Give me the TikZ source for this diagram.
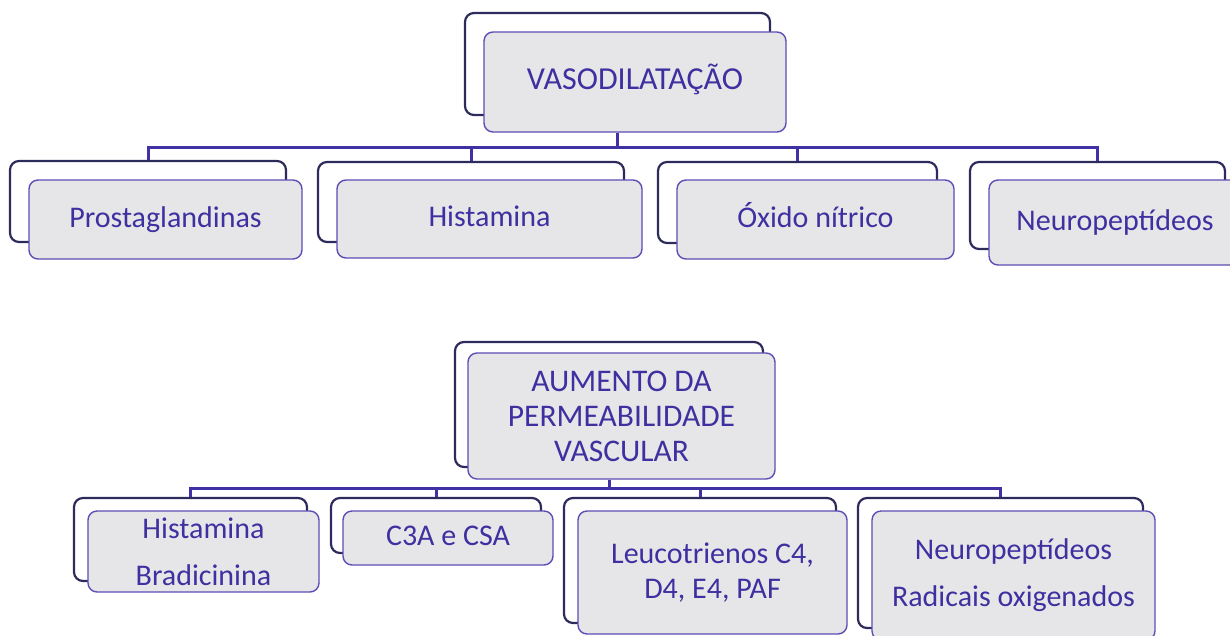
\documentclass[tikz,border=0pt]{standalone}
\usepackage{fontspec}
\setmainfont{Carlito}
\definecolor{txtc}{RGB}{62,48,160}
\definecolor{connc}{RGB}{64,50,165}
\definecolor{frontc}{RGB}{92,78,182}
\definecolor{backc}{RGB}{45,42,92}
\definecolor{fillc}{RGB}{230,230,232}
\tikzset{
  backbox/.style={draw=backc, line width=2.2pt, rounded corners=9pt, fill=white, inner sep=0pt},
  frontbox/.style={draw=frontc, line width=1.4pt, rounded corners=9pt, fill=fillc, inner sep=0pt,
    text=txtc, align=center, font=\fontsize{30}{35}\selectfont},
  oneline/.style={text height=22pt, text depth=7pt},
  headfont/.style={font=\fontsize{32}{35}\selectfont},
  conn/.style={draw=connc, line width=3pt},
}
\begin{document}
\begin{tikzpicture}[x=1pt,y=-1pt]
\useasboundingbox (0,0) rectangle (1230,635);
\clip (0,0) rectangle (1230,635);
% buses
\coordinate (bus1) at (617.5,147);
\coordinate (bus2) at (609,488);
% top group
\node[backbox, minimum width=305pt, minimum height=102pt] (vB) at (617.5,64) {};
\node[frontbox, headfont, oneline, minimum width=302pt, minimum height=100pt] (vF) at (635,82) {VASODILATAÇÃO};
% row 1 back boxes
\node[backbox, minimum width=276pt, minimum height=81pt] (p1B) at (148,201.5) {};
\node[backbox, minimum width=306pt, minimum height=80pt] (p2B) at (471,202) {};
\node[backbox, minimum width=279pt, minimum height=81pt] (p3B) at (797.5,202.5) {};
\node[backbox, minimum width=255pt, minimum height=87pt] (p4B) at (1097.5,205.5) {};
% connectors row 1
\draw[conn] (vB.center |- vF.south) -- (bus1);
\draw[conn] (p1B.north) |- (bus1);
\draw[conn] (bus1) -| (p4B.north);
\draw[conn] (bus1 -| p2B.north) -- (p2B.north);
\draw[conn] (bus1 -| p3B.north) -- (p3B.north);
% row 1 front boxes
\node[frontbox, oneline, minimum width=273pt, minimum height=79pt] (p1F) at (165.5,219.5) {Prostaglandinas};
\node[frontbox, oneline, minimum width=305pt, minimum height=78pt] (p2F) at (489.5,219) {Histamina};
\node[frontbox, oneline, minimum width=277pt, minimum height=79pt] (p3F) at (815.5,219.5) {Óxido nítrico};
\node[frontbox, oneline, minimum width=252pt, minimum height=85pt] (p4F) at (1115,222.5) {Neuropeptídeos};
% bottom group
\node[backbox, minimum width=308pt, minimum height=125pt] (aB) at (609,404.5) {};
\node[frontbox, font=\fontsize{31.5}{35}\selectfont, minimum width=307pt, minimum height=126pt] (aF) at (621.5,416) {AUMENTO DA\\PERMEABILIDADE\\VASCULAR};
% row 2 back boxes
\node[backbox, minimum width=233pt, minimum height=83pt] (q1B) at (190.5,539.5) {};
\node[backbox, minimum width=210pt, minimum height=55pt] (q2B) at (436,525.5) {};
\node[backbox, minimum width=272pt, minimum height=125pt] (q3B) at (700,560.5) {};
\node[backbox, minimum width=285pt, minimum height=130pt] (q4B) at (1000.5,563) {};
% connectors row 2
\draw[conn] (aB.center |- aF.south) -- (bus2);
\draw[conn] (q1B.north) |- (bus2);
\draw[conn] (bus2) -| (q4B.north);
\draw[conn] (bus2 -| q2B.north) -- (q2B.north);
\draw[conn] (bus2 -| q3B.north) -- (q3B.north);
% row 2 fronts
\node[frontbox, minimum width=231pt, minimum height=81pt] (q1F) at (203.5,551.5) {Histamina\\[12pt]Bradicinina};
\node[frontbox, oneline, minimum width=210pt, minimum height=54pt] (q2F) at (448,538) {C3A e CSA};
\node[frontbox, minimum width=269pt, minimum height=123pt] (q3F) at (712.5,572.5) {Leucotrienos C4,\\D4, E4, PAF};
\node[frontbox, minimum width=283pt, minimum height=129pt] (q4F) at (1013.5,575.5) {Neuropeptídeos\\[12pt]Radicais oxigenados};
\end{tikzpicture}
\end{document}
